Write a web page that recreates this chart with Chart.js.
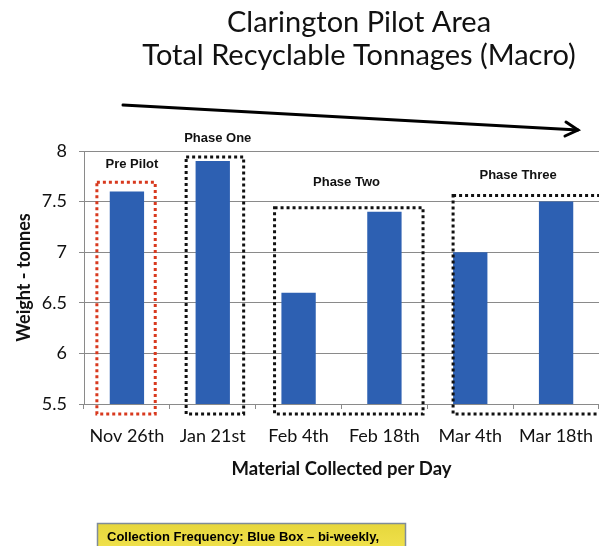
<!DOCTYPE html>
<html>
<head>
<meta charset="utf-8">
<script src="https://cdn.jsdelivr.net/npm/chart.js@4.4.1/dist/chart.umd.min.js"></script>
<style>
  html, body { margin: 0; padding: 0; background: #fff; }
  canvas { display: block; }
</style>
</head>
<body>
<canvas id="chart" width="599" height="546"></canvas>
<script>
  const titleLines = ['Clarington Pilot Area', 'Total Recyclable Tonnages (Macro)'];
  const categories = ['Nov 26th', 'Jan 21st', 'Feb 4th', 'Feb 18th', 'Mar 4th', 'Mar 18th'];
  const tonnes = [7.6, 7.9, 6.6, 7.4, 7.0, 7.5];
  const yTicks = [5.5, 6, 6.5, 7, 7.5, 8];
  const phaseNames = ['Pre Pilot', 'Phase One', 'Phase Two', 'Phase Three'];
  const phaseFirst = [0, 1, 2, 4];
  const phaseLast = [0, 1, 3, 5];
  const noteText = 'Collection Frequency: Blue Box \u2013 bi-weekly,';

  // dotted boxes round each phase, placed from the scales
  const phasePlugin = {
    id: 'phases',
    afterDatasetsDraw(chart, args, opts) {
      const { ctx, chartArea } = chart;
      const x = chart.scales.x, y = chart.scales.y;
      const cw = x.getPixelForValue(1) - x.getPixelForValue(0);
      phaseNames.forEach((name, i) => {
        const a = phaseFirst[i], b = phaseLast[i];
        const peak = Math.max(...tonnes.slice(a, b + 1));
        const top = y.getPixelForValue(peak + opts.lift[i]);
        const left = x.getPixelForValue(a) - opts.padLeft[i] * cw;
        const right = x.getPixelForValue(b) + opts.padRight[i] * cw;
        const bottom = chartArea.bottom + 10;
        ctx.save();
        ctx.strokeStyle = opts.colors[i];
        ctx.lineWidth = 3;
        ctx.setLineDash([3, 3]);
        ctx.strokeRect(left, top, right - left, bottom - top);
        ctx.setLineDash([]);
        ctx.fillStyle = '#111';
        ctx.font = 'bold 13px "Liberation Sans", Arial, sans-serif';
        ctx.textAlign = 'center';
        ctx.textBaseline = 'middle';
        const cx = (x.getPixelForValue(a) + x.getPixelForValue(b)) / 2 + 5;
        ctx.fillText(name, cx, top - opts.labelGap[i]);
        ctx.restore();
      });
    }
  };

  // title, trend arrow and the note strip at the foot
  const decorPlugin = {
    id: 'decor',
    afterDraw(chart) {
      const ctx = chart.ctx;
      ctx.save();
      ctx.fillStyle = '#111';
      ctx.font = '29px Lato, "Open Sans", sans-serif';
      ctx.textAlign = 'center';
      ctx.textBaseline = 'alphabetic';
      ctx.fillText(titleLines[0], 359, 32);
      ctx.fillText(titleLines[1], 359, 65);

      // arrow
      ctx.strokeStyle = '#000';
      ctx.lineWidth = 3;
      ctx.lineCap = 'round';
      ctx.beginPath();
      ctx.moveTo(123, 105);
      ctx.lineTo(578, 130);
      ctx.stroke();
      ctx.beginPath();
      ctx.moveTo(566, 122);
      ctx.lineTo(578, 130);
      ctx.lineTo(565, 136);
      ctx.stroke();

      // note strip
      const g = ctx.createLinearGradient(0, 523, 0, 546);
      g.addColorStop(0, '#e6d63c');
      g.addColorStop(1, '#efe04a');
      ctx.fillStyle = g;
      ctx.fillRect(97, 523, 309, 30);
      ctx.strokeStyle = '#7f8c9a';
      ctx.lineWidth = 1.5;
      ctx.strokeRect(97.5, 523.5, 308, 30);
      ctx.fillStyle = '#000';
      ctx.font = 'bold 13px "Liberation Sans", Arial, sans-serif';
      ctx.textAlign = 'left';
      ctx.fillText(noteText, 107, 541);
      ctx.restore();
    }
  };

  new Chart(document.getElementById('chart').getContext('2d'), {
    type: 'bar',
    data: {
      labels: categories,
      datasets: [{
        data: tonnes,
        backgroundColor: '#2d60b2',
        borderWidth: 0,
        barPercentage: 0.4,
        categoryPercentage: 1
      }]
    },
    plugins: [phasePlugin, decorPlugin],
    options: {
      responsive: false,
      animation: false,
      layout: { padding: { top: 151, left: 0, right: 0, bottom: 0 } },
      scales: {
        x: {
          afterFit: scale => {
            scale.height = 142;
            scale.paddingLeft = 0;
            scale.paddingRight = 0;
          },
          grid: { drawOnChartArea: false, tickLength: 5, color: '#8a8a8a' },
          border: { color: '#8a8a8a' },
          ticks: {
            color: '#111',
            padding: 16,
            font: { family: 'Lato, "Open Sans", sans-serif', size: 18 }
          },
          title: {
            display: true,
            text: 'Material Collected per Day',
            color: '#111',
            padding: { top: 0, bottom: 66 },
            font: { family: 'Lato, "Open Sans", sans-serif', size: 18.5, weight: 'bold' }
          }
        },
        y: {
          min: yTicks[0],
          max: yTicks[yTicks.length - 1],
          afterFit: scale => { scale.width = 84; },
          afterBuildTicks: scale => { scale.ticks = yTicks.map(v => ({ value: v })); },
          grid: { color: '#8a8a8a', tickLength: 5 },
          border: { color: '#8a8a8a' },
          ticks: {
            color: '#111',
            padding: 12,
            font: { family: 'Lato, "Open Sans", sans-serif', size: 18 },
            callback: v => String(v)
          },
          title: {
            display: true,
            text: 'Weight - tonnes',
            color: '#111',
            padding: { top: 13, bottom: 0 },
            font: { family: 'Lato, "Open Sans", sans-serif', size: 18, weight: 'bold' }
          }
        }
      },
      plugins: {
        legend: { display: false },
        tooltip: { enabled: false },
        phases: {
          colors: ['#d8391e', '#111', '#111', '#111'],
          lift: [0.09, 0.04, 0.04, 0.06],
          padLeft: [0.35, 0.31, 0.28, 0.2],
          padRight: [0.33, 0.36, 0.45, 0.6],
          labelGap: [18, 19, 25, 20]
        }
      }
    }
  });
</script>
</body>
</html>
